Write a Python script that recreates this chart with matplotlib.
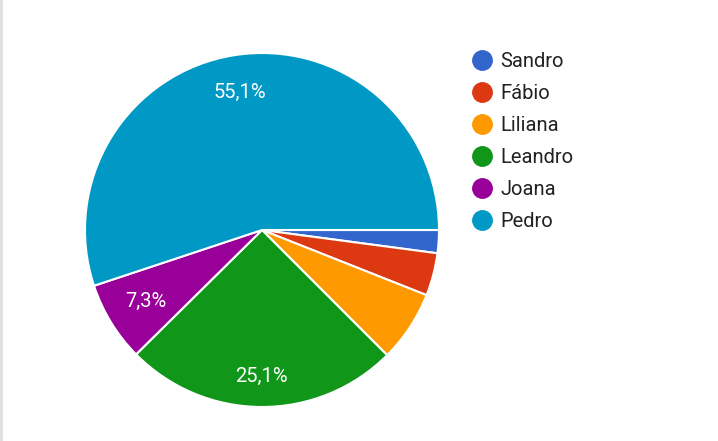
import matplotlib
matplotlib.use("Agg")
import numpy as np
import matplotlib.pyplot as plt
from matplotlib.lines import Line2D
from matplotlib.patches import Rectangle

names = ["Sandro", "Fábio", "Liliana", "Leandro", "Joana", "Pedro"]
values = [2.1, 3.9, 6.5, 25.1, 7.3, 55.1]
colors = ["#3366cc", "#dc3912", "#ff9900", "#109618", "#990099", "#0099c6"]

plt.rcParams['font.family'] = ['Roboto', 'DejaVu Sans']

W, H = 718, 441
fig = plt.figure(figsize=(W/100, H/100), dpi=100)
ax = fig.add_axes([0, 0, 1, 1])
ax.set_xlim(0, W)
ax.set_ylim(0, H)
ax.set_aspect('equal')
ax.axis('off')

def fmt(p):
    if p < 7:
        return ''
    return ('%.1f%%' % p).replace('.', ',')

cx, cy, R = 262, H - 230, 177
wedges, texts, autotexts = ax.pie(
    values, colors=colors, startangle=0, counterclock=False,
    center=(cx, cy), radius=R, autopct=fmt, pctdistance=0.8,
    wedgeprops=dict(edgecolor='white', linewidth=1.5),
    textprops=dict(color='white', fontsize=14.5))
ax.set_xlim(0, W)
ax.set_ylim(0, H)

dist = {3: 0.825, 4: 0.77, 5: 0.79}
for i, (w, t) in enumerate(zip(wedges, autotexts)):
    if i in dist:
        ang = np.deg2rad((w.theta1 + w.theta2) / 2)
        t.set_position((cx + dist[i] * R * np.cos(ang), cy + dist[i] * R * np.sin(ang)))

handles = [Line2D([], [], marker='o', linestyle='none', markersize=14,
                  markerfacecolor=c, markeredgecolor=c) for c in colors]
leg = ax.legend(handles, names, loc='upper left', bbox_to_anchor=(470/W, 1 - 52/H),
                bbox_transform=fig.transFigure, frameon=False, fontsize=14.5,
                labelspacing=0.65, handletextpad=0.3, handlelength=1.2,
                borderpad=0, borderaxespad=0)
for t in leg.get_texts():
    t.set_color('#222222')

fig.patches.append(Rectangle((0, 0), 3/W, 1, transform=fig.transFigure,
                             facecolor='#e0e0e0', edgecolor='none'))

fig.savefig('out.png', dpi=100, facecolor='white')
